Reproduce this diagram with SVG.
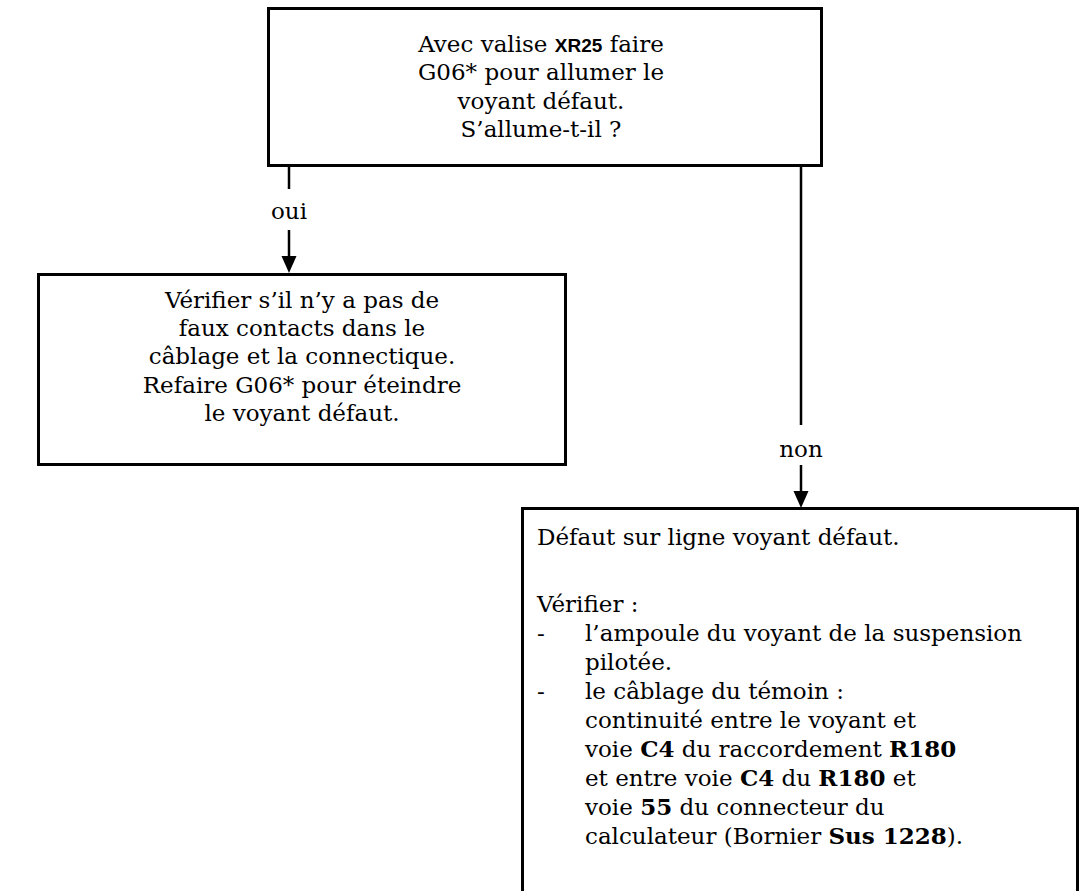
<svg xmlns="http://www.w3.org/2000/svg" width="1082" height="891" viewBox="0 0 1082 891">
  <style>
    .box { fill: #ffffff; stroke: #000000; stroke-width: 3; }
    .wire { stroke: #000000; stroke-width: 2.5; fill: none; }
    .head { fill: #000000; stroke: none; }
    .t { font-family: "DejaVu Serif", "Liberation Serif", serif; font-size: 23px; fill: #000000; }
    .c { text-anchor: middle; }
    .b { font-weight: bold; }
    .sans { font-family: "Liberation Sans", Arial, sans-serif; font-weight: bold; font-size: 19px; }
  </style>
  <rect width="1082" height="891" fill="#ffffff"/>

  <!-- connectors -->
  <g id="connectors">
    <!-- oui branch -->
    <line class="wire" x1="289" y1="166" x2="289" y2="189"/>
    <line class="wire" x1="289" y1="230" x2="289" y2="258"/>
    <polygon class="head" points="281.5,256 296.5,256 289,273"/>
    <text class="t c" x="289" y="219">oui</text>
    <!-- non branch -->
    <line class="wire" x1="801" y1="166" x2="801" y2="425"/>
    <line class="wire" x1="801" y1="465" x2="801" y2="493"/>
    <polygon class="head" points="793.5,491 808.5,491 801,508"/>
    <text class="t c" x="801" y="457">non</text>
  </g>

  <!-- question -->
  <g id="node-question">
    <rect class="box" x="268.5" y="8.5" width="553" height="157"/>
    <text class="t c" x="541" y="52">Avec valise <tspan class="sans">XR25</tspan> faire</text>
    <text class="t c" x="541" y="80">G06* pour allumer le</text>
    <text class="t c" x="541" y="109">voyant défaut.</text>
    <text class="t c" x="541" y="137">S’allume-t-il ?</text>
  </g>

  <!-- oui outcome -->
  <g id="node-oui">
    <rect class="box" x="38.5" y="274.5" width="527" height="190"/>
    <text class="t c" x="302" y="308">Vérifier s’il n’y a pas de</text>
    <text class="t c" x="302" y="336">faux contacts dans le</text>
    <text class="t c" x="302" y="364">câblage et la connectique.</text>
    <text class="t c" x="302" y="393">Refaire G06* pour éteindre</text>
    <text class="t c" x="302" y="421">le voyant défaut.</text>
  </g>

  <!-- non outcome -->
  <g id="node-non">
    <rect class="box" x="522.5" y="508.5" width="555" height="400"/>
    <text class="t" x="537" y="545">Défaut sur ligne voyant défaut.</text>
    <text class="t" x="537" y="612">Vérifier :</text>
    <text class="t" x="537" y="641">-</text>
    <text class="t" x="585" y="641">l’ampoule du voyant de la suspension</text>
    <text class="t" x="585" y="670">pilotée.</text>
    <text class="t" x="537" y="699">-</text>
    <text class="t" x="585" y="699">le câblage du témoin :</text>
    <text class="t" x="585" y="728">continuité entre le voyant et</text>
    <text class="t" x="585" y="757">voie <tspan class="b">C4</tspan> du raccordement <tspan class="b">R180</tspan></text>
    <text class="t" x="585" y="786">et entre voie <tspan class="b">C4</tspan> du <tspan class="b">R180</tspan> et</text>
    <text class="t" x="585" y="815">voie <tspan class="b">55</tspan> du connecteur du</text>
    <text class="t" x="585" y="844">calculateur (Bornier <tspan class="b">Sus 1228</tspan>).</text>
  </g>
</svg>
